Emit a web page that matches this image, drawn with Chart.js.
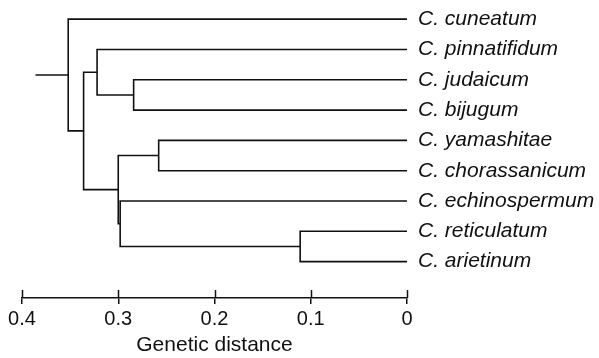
<!DOCTYPE html>
<html>
<head>
<meta charset="utf-8">
<script src="https://cdn.jsdelivr.net/npm/chart.js@4"></script>
<style>
  body { margin: 0; background: #fff; }
  #wrap { width: 599px; height: 358px; }
</style>
</head>
<body>
<div id="wrap"><canvas id="tree"></canvas></div>
<script>
// Leaves (top to bottom)
const species = ['C. cuneatum', 'C. pinnatifidum', 'C. judaicum', 'C. bijugum', 'C. yamashitae',
  'C. chorassanicum', 'C. echinospermum', 'C. reticulatum', 'C. arietinum'];

// Internal nodes: children are leaf indexes or node ids
const nodeIds = ['jb', 'yc', 'ra', 'ex', 'lower', 'pin', 'mid', 'root'];
const nodeDistance = [0.284, 0.258, 0.111, 0.298, 0.300, 0.322, 0.336, 0.352];
const nodeLeft = [2, 4, 7, 6, 'yc', 1, 'pin', 0];
const nodeRight = [3, 5, 8, 'ra', 'ex', 'jb', 'lower', 'mid'];
const rootStem = 0.386;

const xTicks = [0.4, 0.3, 0.2, 0.1, 0];
const xTickLabels = ['0.4', '0.3', '0.2', '0.1', '0'];

// position (distance, y) of a child
const pos = {};
function childPos(c) {
  if (typeof c === 'number') return { x: 0, y: c };
  return pos[c];
}
const datasets = [];
nodeIds.forEach((id, i) => {
  const a = childPos(nodeLeft[i]);
  const b = childPos(nodeRight[i]);
  const d = nodeDistance[i];
  pos[id] = { x: d, y: (a.y + b.y) / 2 };
  datasets.push({
    data: [{ x: a.x, y: a.y }, { x: d, y: a.y }, { x: d, y: b.y }, { x: b.x, y: b.y }]
  });
});
datasets.push({ data: [{ x: rootStem, y: pos.root.y }, { x: pos.root.x, y: pos.root.y }] });
datasets.forEach(ds => {
  ds.showLine = true;
  ds.borderColor = '#111';
  ds.borderWidth = 1.6;
  ds.pointRadius = 0;
  ds.fill = false;
});

// tick marks that also rise above the axis line
const upTicks = {
  id: 'upTicks',
  afterDraw(chart) {
    const sx = chart.scales.x;
    const ctx = chart.ctx;
    ctx.save();
    ctx.strokeStyle = '#111';
    ctx.lineWidth = 1.5;
    sx.ticks.forEach(t => {
      const px = Math.round(sx.getPixelForValue(t.value)) + 0.5;
      ctx.beginPath();
      ctx.moveTo(px, sx.top - 8);
      ctx.lineTo(px, sx.top);
      ctx.stroke();
    });
    ctx.restore();
  }
};

new Chart(document.getElementById('tree'), {
  type: 'scatter',
  data: { datasets: datasets },
  plugins: [upTicks],
  options: {
    responsive: true,
    maintainAspectRatio: false,
    animation: false,
    layout: { padding: { left: 22, top: 4, right: 0, bottom: 0 } },
    plugins: { legend: { display: false }, tooltip: { enabled: false } },
    scales: {
      x: {
        type: 'linear',
        reverse: true,
        min: 0,
        max: 0.4,
        afterBuildTicks: s => { s.ticks = xTicks.map(v => ({ value: v })); },
        afterFit: s => { s.height = 60; },
        ticks: {
          color: '#111',
          padding: 3,
          maxRotation: 0,
          font: { family: "'Liberation Sans', Arial, sans-serif", size: 20 },
          callback: v => xTickLabels[xTicks.indexOf(v)]
        },
        grid: { display: true, drawOnChartArea: false, drawTicks: true, tickLength: 6, color: '#111', lineWidth: 1.5 },
        border: { display: true, color: '#111', width: 1.5 },
        title: {
          display: true,
          text: 'Genetic distance',
          color: '#111',
          padding: 0,
          font: { family: "'Liberation Sans', Arial, sans-serif", size: 21 }
        }
      },
      y: {
        type: 'linear',
        position: 'right',
        reverse: true,
        min: -0.5,
        max: 9.2,
        afterBuildTicks: s => { s.ticks = species.map((_, i) => ({ value: i })); },
        afterFit: s => { s.width = 192; s.paddingTop = 0; s.paddingBottom = 0; },
        ticks: {
          color: '#111',
          padding: 11,
          font: { family: "'Liberation Sans', Arial, sans-serif", size: 21, style: 'italic' },
          callback: v => species[v]
        },
        grid: { display: false, drawTicks: false },
        border: { display: false }
      }
    }
  }
});
</script>
</body>
</html>
